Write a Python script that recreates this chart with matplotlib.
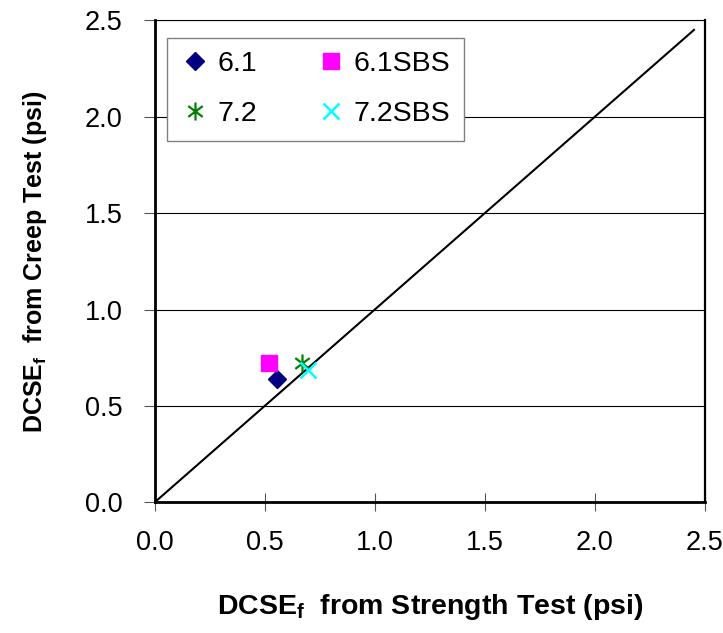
import matplotlib
matplotlib.use("Agg")
import matplotlib.pyplot as plt
from matplotlib.path import Path

plt.rcParams['font.family'] = ['Liberation Sans', 'DejaVu Sans']
plt.rcParams['mathtext.fontset'] = 'custom'
plt.rcParams['mathtext.rm'] = 'Liberation Sans:bold'
plt.rcParams['mathtext.bf'] = 'Liberation Sans:bold'

# DCSE_f values (psi): strength test (x) vs creep test (y)
labels = ["6.1", "6.1SBS", "7.2", "7.2SBS"]
strength = [0.555, 0.520, 0.671, 0.696]
creep = [0.640, 0.723, 0.725, 0.687]
equality_line = [0.0, 2.45]
ticks = [0.0, 0.5, 1.0, 1.5, 2.0, 2.5]
tick_labels = ["0.0", "0.5", "1.0", "1.5", "2.0", "2.5"]

# six-armed asterisk marker
asterisk = Path(
    [(0, -1), (0, 1), (-0.8, -0.6), (0.8, 0.6), (-0.8, 0.6), (0.8, -0.6)],
    [Path.MOVETO, Path.LINETO, Path.MOVETO, Path.LINETO, Path.MOVETO, Path.LINETO],
)

styles = {
    "6.1": dict(marker="D", color="#000080", markersize=9, mec="#000080"),
    "6.1SBS": dict(marker="s", color="#FF00FF", markersize=12, mec="#FF00FF"),
    "7.2": dict(marker=asterisk, color="#008000", markersize=13, mew=1.6,
                mfc="none", mec="#008000"),
    "7.2SBS": dict(marker="x", color="#00FFFF", markersize=11, mew=1.8,
                   mec="#00FFFF"),
}

fig = plt.figure(figsize=(7.23, 6.33), dpi=100)
ax = fig.add_axes([0.2137, 0.2062, 0.7614, 0.7618])

ax.plot(equality_line, equality_line, color="black", lw=1.5, zorder=2)

handles = {}
for lab, xv, yv in zip(labels, strength, creep):
    h, = ax.plot([xv], [yv], linestyle="none", zorder=3, label=lab, **styles[lab])
    handles[lab] = h

ax.set_xlim(0, 2.5)
ax.set_ylim(0, 2.5)
ax.set_xticks(ticks)
ax.set_xticklabels(tick_labels)
ax.set_yticks(ticks)
ax.set_yticklabels(tick_labels)
ax.yaxis.grid(True, color="black", lw=0.8)
ax.set_axisbelow(True)

ax.tick_params(axis="x", direction="inout", length=13, width=0.8,
               labelsize=19.5, pad=13, color="#555555")
ax.tick_params(axis="y", direction="out", length=8, width=0.8,
               labelsize=19.5, pad=15, color="#555555")

for side in ("left", "bottom"):
    ax.spines[side].set_linewidth(2.0)
ax.spines["right"].set_linewidth(1.6)
ax.spines["top"].set_linewidth(0.8)

ax.set_xlabel(r"DCSE$_{\mathrm{f}}$  from Strength Test (psi)",
              fontsize=20.5, fontweight="bold", labelpad=26)
ax.set_ylabel(r"DCSE$_{\mathrm{f}}$  from Creep Test (psi)",
              fontsize=18, fontweight="bold", labelpad=26)

order = ["6.1", "7.2", "6.1SBS", "7.2SBS"]
leg = ax.legend([handles[k] for k in order], order, ncol=2,
                loc="upper left", bbox_to_anchor=(0.022, 0.964),
                borderaxespad=0, fontsize=20.5, fancybox=False,
                edgecolor="#808080", framealpha=1, handlelength=1.0,
                handletextpad=0.3, columnspacing=2.1, labelspacing=0.83,
                borderpad=0.48)
leg.get_frame().set_linewidth(1.0)

fig.savefig("out.png", dpi=100)
